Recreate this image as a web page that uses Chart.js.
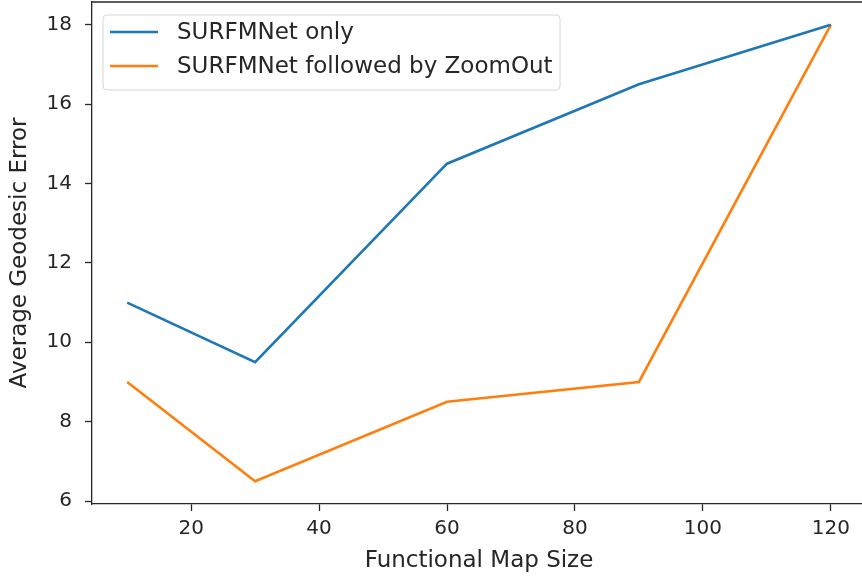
<!DOCTYPE html>
<html>
<head>
<meta charset="utf-8">
<script src="https://cdn.jsdelivr.net/npm/chart.js@4"></script>
<style>
  html, body { margin: 0; padding: 0; background: #fff; overflow: hidden; }
  #wrap { width: 870px; height: 578px; }
</style>
</head>
<body>
<div id="wrap"><canvas id="errChart"></canvas></div>
<script>
// data
const mapSizes = [10, 30, 60, 90, 120];
const surfOnly = [11, 9.5, 14.5, 16.5, 18];
const surfZoomOut = [9, 6.5, 8.5, 9, 18];
const xTicks = [20, 40, 60, 80, 100, 120];
const yTicks = [6, 8, 10, 12, 14, 16, 18];

const FONT = '"DejaVu Sans", sans-serif';
const axisColor = '#262626';

const toPoints = (ys) => mapSizes.map((x, i) => ({ x: x, y: ys[i] }));

// top spine + legend inside the axes (right spine is cropped off in the original)
const framePlugin = {
  id: 'frame',
  afterDraw(chart) {
    const { ctx, chartArea: a } = chart;
    ctx.save();
    ctx.strokeStyle = axisColor;
    ctx.lineWidth = 1.3;
    ctx.beginPath();
    ctx.moveTo(a.left, a.top);
    ctx.lineTo(a.right, a.top);
    ctx.stroke();

    // legend
    const bx = 103, by = 15, bw = 457, bh = 75;
    ctx.beginPath();
    ctx.roundRect(bx, by, bw, bh, 4);
    ctx.fillStyle = 'rgba(255,255,255,0.8)';
    ctx.fill();
    ctx.strokeStyle = '#d6d6d6';
    ctx.lineWidth = 1;
    ctx.stroke();
    ctx.font = '23px ' + FONT;
    ctx.textBaseline = 'middle';
    chart.data.datasets.forEach((ds, i) => {
      const y = 32 + i * 34;
      ctx.beginPath();
      ctx.moveTo(110, y);
      ctx.lineTo(158, y);
      ctx.strokeStyle = ds.borderColor;
      ctx.lineWidth = 2.6;
      ctx.stroke();
      ctx.fillStyle = axisColor;
      ctx.fillText(ds.label, 177, y + 1);
    });
    ctx.restore();
  }
};

const noPad = (s) => { s.paddingTop = 0; s.paddingBottom = 0; s.paddingLeft = 0; s.paddingRight = 0; };

new Chart(document.getElementById('errChart'), {
  type: 'line',
  data: {
    datasets: [{
      label: 'SURFMNet only',
      data: toPoints(surfOnly),
      borderColor: '#1f77b4',
      borderWidth: 2.6,
      pointRadius: 0,
      tension: 0
    }, {
      label: 'SURFMNet followed by ZoomOut',
      data: toPoints(surfZoomOut),
      borderColor: '#ff7f0e',
      borderWidth: 2.6,
      pointRadius: 0,
      tension: 0
    }]
  },
  options: {
    responsive: true,
    maintainAspectRatio: false,
    animation: false,
    layout: { padding: { left: 0, top: 2, right: 4, bottom: 0 } },
    plugins: {
      legend: { display: false },
      tooltip: { enabled: false }
    },
    scales: {
      x: {
        type: 'linear',
        min: 4.5,
        max: 125.5,
        afterBuildTicks: (s) => { s.ticks = xTicks.map(v => ({ value: v })); },
        afterFit: (s) => { s.height = 74; noPad(s); },
        grid: { drawOnChartArea: false, tickLength: 7, color: axisColor, tickWidth: 1.3 },
        border: { color: axisColor, width: 1.3 },
        ticks: { color: axisColor, padding: 6, font: { family: FONT, size: 20 } },
        title: {
          display: true,
          text: 'Functional Map Size',
          color: axisColor,
          padding: { top: 0, bottom: 3 },
          font: { family: FONT, size: 23 }
        }
      },
      y: {
        min: 5.925,
        max: 18.575,
        afterBuildTicks: (s) => { s.ticks = yTicks.map(v => ({ value: v })); },
        afterFit: (s) => { s.width = 92; noPad(s); },
        grid: { drawOnChartArea: false, tickLength: 7, color: axisColor, tickWidth: 1.3 },
        border: { color: axisColor, width: 1.3 },
        ticks: { color: axisColor, padding: 13, font: { family: FONT, size: 20 } },
        title: {
          display: true,
          text: 'Average Geodesic Error',
          color: axisColor,
          padding: { top: 6, bottom: 0 },
          font: { family: FONT, size: 23 }
        }
      }
    }
  },
  plugins: [framePlugin]
});
</script>
</body>
</html>
